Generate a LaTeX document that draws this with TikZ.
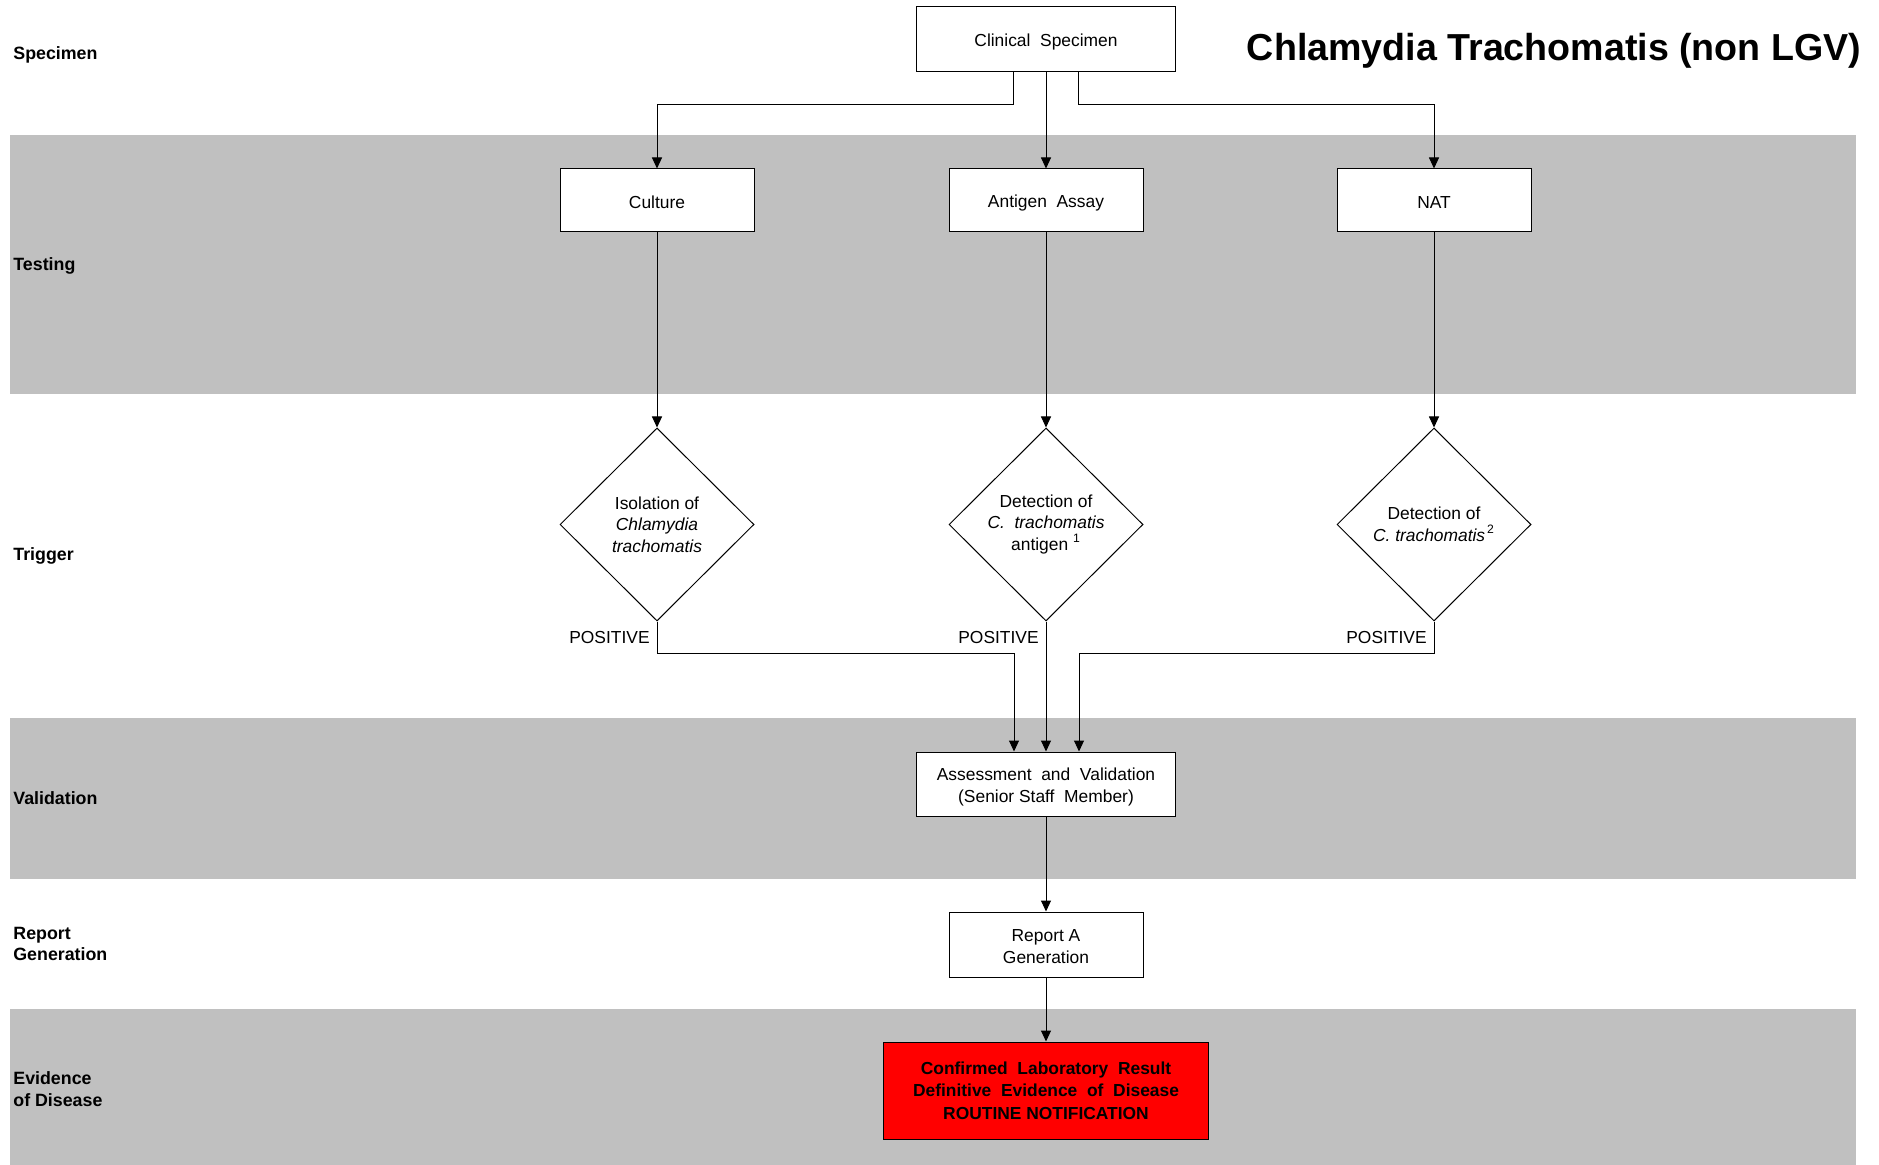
\documentclass[tikz,border=0pt]{standalone}
\usepackage{fontspec}
\setmainfont{Liberation Sans}
\usetikzlibrary{arrows.meta,shapes.geometric,calc}
\definecolor{lanegray}{HTML}{C0C0C0}
\definecolor{alertred}{HTML}{FF0000}

% a strut that sets each box line a little below the centre
\newcommand\capstrut{\rule[-0.5pt]{0pt}{9.3pt}}

\tikzset{
  lane/.style={fill=lanegray,draw=none},
  lanelabel/.style={anchor=west,align=left,inner sep=0pt,
    font=\fontsize{8.9}{10.8}\selectfont\bfseries},
  box/.style={draw=black,line width=0.5pt,fill=white,inner sep=0pt,
    align=center,font=\fontsize{8.7}{11}\selectfont},
  decision/.style={diamond,draw=black,line width=0.5pt,fill=white,inner sep=0pt,
    align=center,minimum width=97pt,minimum height=96.5pt,
    font=\fontsize{8.7}{10.8}\selectfont},
  alert/.style={box,fill=alertred,font=\fontsize{8.7}{11.2}\selectfont\bfseries},
  result/.style={anchor=east,inner sep=0pt,font=\fontsize{8.7}{11}\selectfont},
  flow/.style={line width=0.5pt,-{Triangle[length=5.5pt,width=5pt]}},
}

\begin{document}
\begin{tikzpicture}[x=0.5pt,y=-0.5pt]
\useasboundingbox (0,0) rectangle (1879,1165);

% lanes
\fill[lane] (10,135) rectangle (1856,394);
\fill[lane] (10,718) rectangle (1856,879);
\fill[lane] (10,1009) rectangle (1856,1165);

% lane labels
\node[lanelabel] (lspec) at (13,55) {Specimen};
\node[lanelabel] (ltest) at (13,266) {Testing};
\node[lanelabel] (ltrig) at (13,556) {Trigger};
\node[lanelabel] (lval)  at (13,798) {Validation};
\node[lanelabel] (lrep)  at (13,944) {Report\\Generation};
\node[lanelabel] (levd)  at (13,1089) {Evidence\\of Disease};

% title
\node[inner sep=0pt,font=\fontsize{18.8}{22}\selectfont\bfseries] (title)
  at (1554,51) {Chlamydia Trachomatis (non LGV)};

% specimen
\node[box,minimum width=129.5pt,minimum height=32.5pt] (cs) at (1046,39.5)
  {\capstrut Clinical\ \ Specimen};

% tests
\node[box,minimum width=97pt,minimum height=31.5pt] (cul) at (657,200.5) {\capstrut Culture};
\node[box,minimum width=97pt,minimum height=31.5pt] (ant) at (1046,200.5) {\capstrut Antigen\ \ Assay};
\node[box,minimum width=97pt,minimum height=31.5pt] (nat) at (1434,200.5) {\capstrut NAT};

% triggers
\node[decision] (d1) at (657,524.5)
  {Isolation of\\\textit{Chlamydia}\\\textit{trachomatis}};
\node[decision] (d2) at (1046,524.5)
  {Detection of\\\textit{C.\ \ trachomatis}\\antigen \textsuperscript{1}};
\node[decision] (d3) at (1434,524.5)
  {Detection of\\\textit{C. trachomatis}\textsuperscript{\,2}};

% validation, report, outcome
\node[box,minimum width=129.5pt,minimum height=32pt] (av) at (1046,784)
  {\capstrut Assessment\ \ and\ \ Validation\\\capstrut(Senior\ Staff\ \ Member)};
\node[box,minimum width=97pt,minimum height=32.5pt] (rep) at (1046,944.5)
  {\capstrut Report A\\\capstrut Generation};
\node[alert,minimum width=162.5pt,minimum height=48.5pt] (out) at (1046,1090.5)
  {Confirmed\ \ Laboratory\ \ Result\\Definitive\ \ Evidence\ \ of\ \ Disease\\ROUTINE\ NOTIFICATION};

% specimen to tests
\draw[flow] ($(cs.south)+(-33,0)$) -- ++(0,32) -| (cul.north);
\draw[flow] (cs.south) -- (ant.north);
\draw[flow] ($(cs.south)+(32,0)$) -- ++(0,32) -| (nat.north);

% tests to triggers
\draw[flow] (cul.south) -- (d1.north);
\draw[flow] (ant.south) -- (d2.north);
\draw[flow] (nat.south) -- (d3.north);

% positive results
\node[result] (p1) at ($(d1.south)+(-7,16)$) {POSITIVE};
\node[result] (p2) at ($(d2.south)+(-7,16)$) {POSITIVE};
\node[result] (p3) at ($(d3.south)+(-7,16)$) {POSITIVE};

\draw[flow] (d1.south) -- ++(0,32) -| ($(av.north)+(-32,0)$);
\draw[flow] (d2.south) -- (av.north);
\draw[flow] (d3.south) -- ++(0,32) -| ($(av.north)+(33,0)$);

% validation onwards
\draw[flow] (av.south) -- (rep.north);
\draw[flow] (rep.south) -- (out.north);
\end{tikzpicture}
\end{document}
